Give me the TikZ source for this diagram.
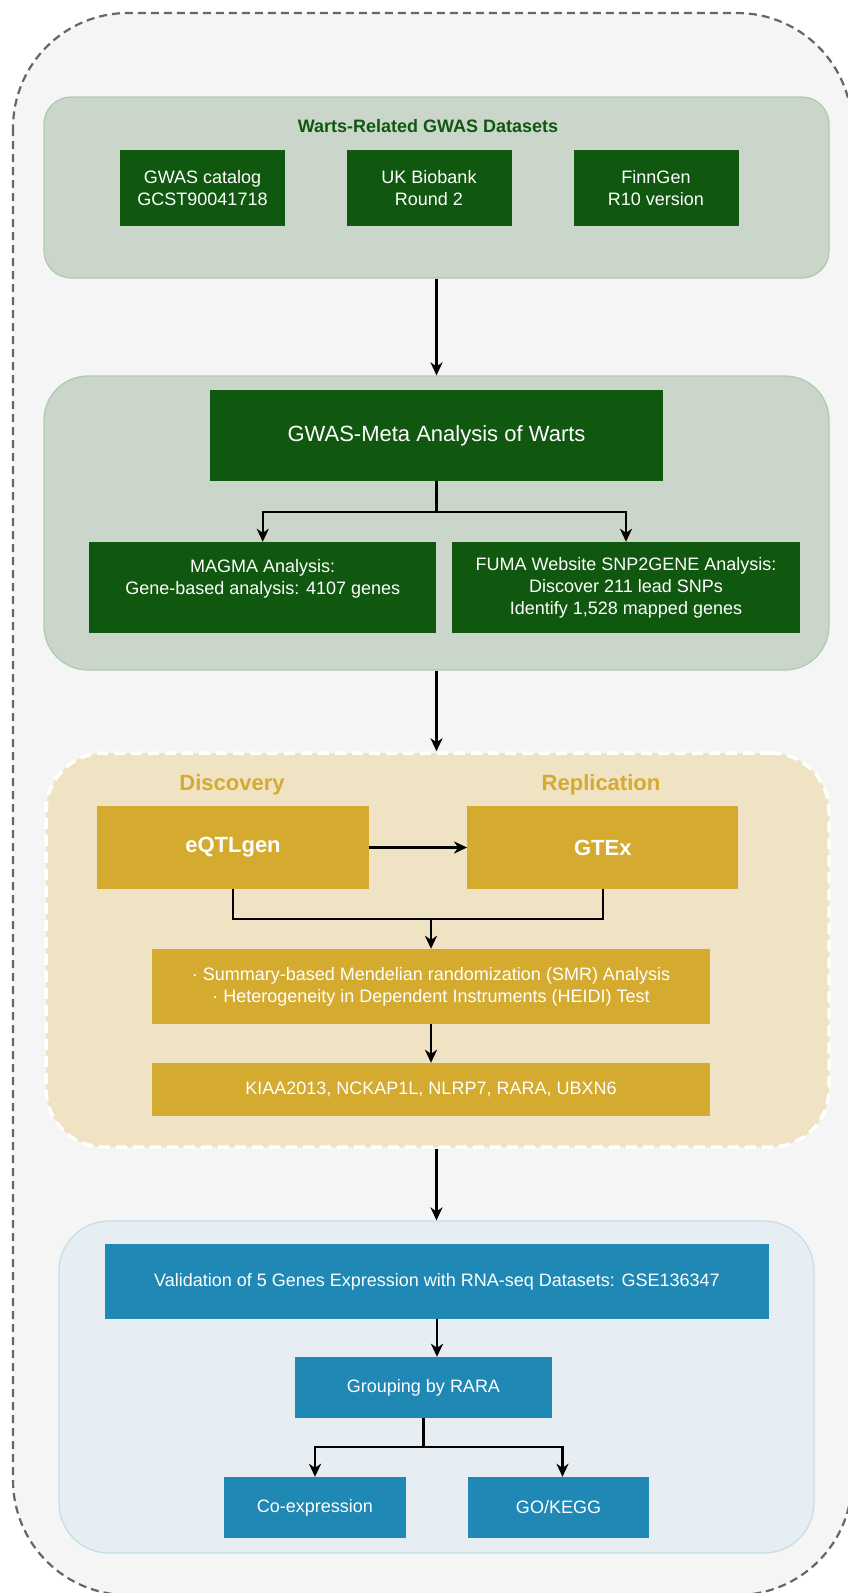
\documentclass[tikz,border=0pt]{standalone}
\usepackage{fontspec}
\setmainfont{Liberation Sans}
\usepgflibrary{arrows.meta}
\usepackage{xcolor}
\definecolor{bggray}{HTML}{F5F5F5}
\definecolor{edgegray}{HTML}{666666}
\definecolor{darkgreen}{HTML}{10570F}
\definecolor{palegreen}{HTML}{C9D6C9}
\definecolor{palegreenline}{HTML}{AECAAE}
\definecolor{gold}{HTML}{D4AA2F}
\definecolor{palegold}{HTML}{F0E3C3}
\definecolor{steelblue}{HTML}{1F88B4}
\definecolor{paleblue}{HTML}{E6EEF4}
\definecolor{paleblueline}{HTML}{C5DCE7}

\begin{document}
\begin{tikzpicture}[x=1pt,y=-1pt,>={Stealth[length=13pt,width=12pt,inset=4pt]},
  box/.style={rectangle,inner sep=0pt,text=white,align=center,
    font=\fontsize{18}{22}\selectfont},
  greenbox/.style={box,fill=darkgreen},
  goldbox/.style={box,fill=gold},
  bluebox/.style={box,fill=steelblue},
  panel/.style={rectangle,inner sep=0pt,line width=1.2pt},
  link/.style={->,line width=2.4pt}]
\useasboundingbox (0,0) rectangle (847,1593);

\draw[edgegray,fill=bggray,line width=2.2pt,dash pattern=on 8pt off 5pt,
  rounded corners=115pt] (13,13) rectangle (852,1595);

\node (p1) at (436.5,187.5) [panel,fill=palegreen,draw=palegreenline,
  rounded corners=27pt,minimum width=785pt,minimum height=181pt]{};
\node (p2) at (436.5,523) [panel,fill=palegreen,draw=palegreenline,
  rounded corners=44pt,minimum width=785pt,minimum height=294pt]{};
\node (p3) at (437.5,950) [panel,fill=palegold,draw=white,line width=3.5pt,
  dash pattern=on 11pt off 6pt,rounded corners=58pt,
  minimum width=783pt,minimum height=394pt]{};
\node (p4) at (436.5,1387) [panel,fill=paleblue,draw=paleblueline,
  rounded corners=50pt,minimum width=755pt,minimum height=332pt]{};

\node (datasets) at (428,126) [text=darkgreen,font=\fontsize{18}{22}\selectfont\bfseries]
  {Warts-Related GWAS Datasets};
\node (gwascat) at (202.5,188) [greenbox,minimum width=165pt,minimum height=76pt]
  {GWAS catalog\\GCST90041718};
\node (ukb) at (429,188) [greenbox,minimum width=165pt,minimum height=76pt]
  {UK Biobank\\Round 2};
\node (finn) at (656,188) [greenbox,minimum width=165pt,minimum height=76pt]
  {FinnGen\\R10 version};

\node (meta) at (436.5,435.5) [greenbox,minimum width=453pt,minimum height=91pt,
  font=\fontsize{22}{26}\selectfont]{GWAS-Meta Analysis of Warts};
\node (magma) at (262.75,587.5) [greenbox,minimum width=347pt,minimum height=91pt]
  {MAGMA Analysis:\\Gene-based analysis: 4107 genes\\\mbox{}};
\node (fuma) at (626,587.5) [greenbox,minimum width=348pt,minimum height=91pt]
  {FUMA Website SNP2GENE Analysis:\\Discover 211 lead SNPs\\Identify 1,528 mapped genes};

\node (disc) at (232,785) [text=gold,font=\fontsize{22}{26}\selectfont\bfseries]{Discovery};
\node (repl) at (601,785) [text=gold,font=\fontsize{22}{26}\selectfont\bfseries]{Replication};
\node (eqtl) at (233,847.5) [goldbox,minimum width=272pt,minimum height=83pt,
  font=\fontsize{22}{26}\selectfont\bfseries]{eQTLgen};
\node (gtex) at (602.75,847.5) [goldbox,minimum width=271pt,minimum height=83pt,
  font=\fontsize{22}{26}\selectfont\bfseries]{GTEx};
\node (smr) at (431,986.5) [goldbox,minimum width=558pt,minimum height=75pt]
  {· Summary-based Mendelian randomization (SMR) Analysis\\
   · Heterogeneity in Dependent Instruments (HEIDI) Test};
\node (genes) at (431,1089.5) [goldbox,minimum width=558pt,minimum height=53pt]
  {KIAA2013, NCKAP1L, NLRP7, RARA, UBXN6};

\node (valid) at (437,1281.5) [bluebox,minimum width=664pt,minimum height=75pt]
  {Validation of 5 Genes Expression with RNA-seq Datasets: GSE136347};
\node (group) at (423.5,1387.5) [bluebox,minimum width=257pt,minimum height=61pt]
  {Grouping by RARA};
\node (coexp) at (315,1507.5) [bluebox,minimum width=182pt,minimum height=61pt]
  {Co-expression};
\node (gokegg) at (558.5,1507.5) [bluebox,minimum width=181pt,minimum height=61pt]
  {GO/KEGG};

\coordinate (merge) at (smr.north |- 0,919);

\draw[link] (p1) -- (p2);
\draw[link] (meta.south) -- ++(0,31) -| (magma.north);
\draw[link] (meta.south) -- ++(0,31) -| (fuma.north);
\draw[link] (p2.south) -- (p2.south |- p3.north);
\draw[link] (eqtl) -- (gtex);
\draw[line width=2.4pt] (eqtl.south) |- (merge) -| (gtex.south);
\draw[link] (merge) -- (smr.north);
\draw[link] (smr) -- (genes);
\draw[link] (p2.south |- p3.south) -- (p2.south |- p4.north);
\draw[link] (valid.south) -- (valid.south |- group.north);
\draw[link] (group.south) -- ++(0,29) -| (coexp.north);
\draw[link] (group.south) -- ++(0,29) -| ([xshift=4pt]gokegg.north);
\end{tikzpicture}
\end{document}
